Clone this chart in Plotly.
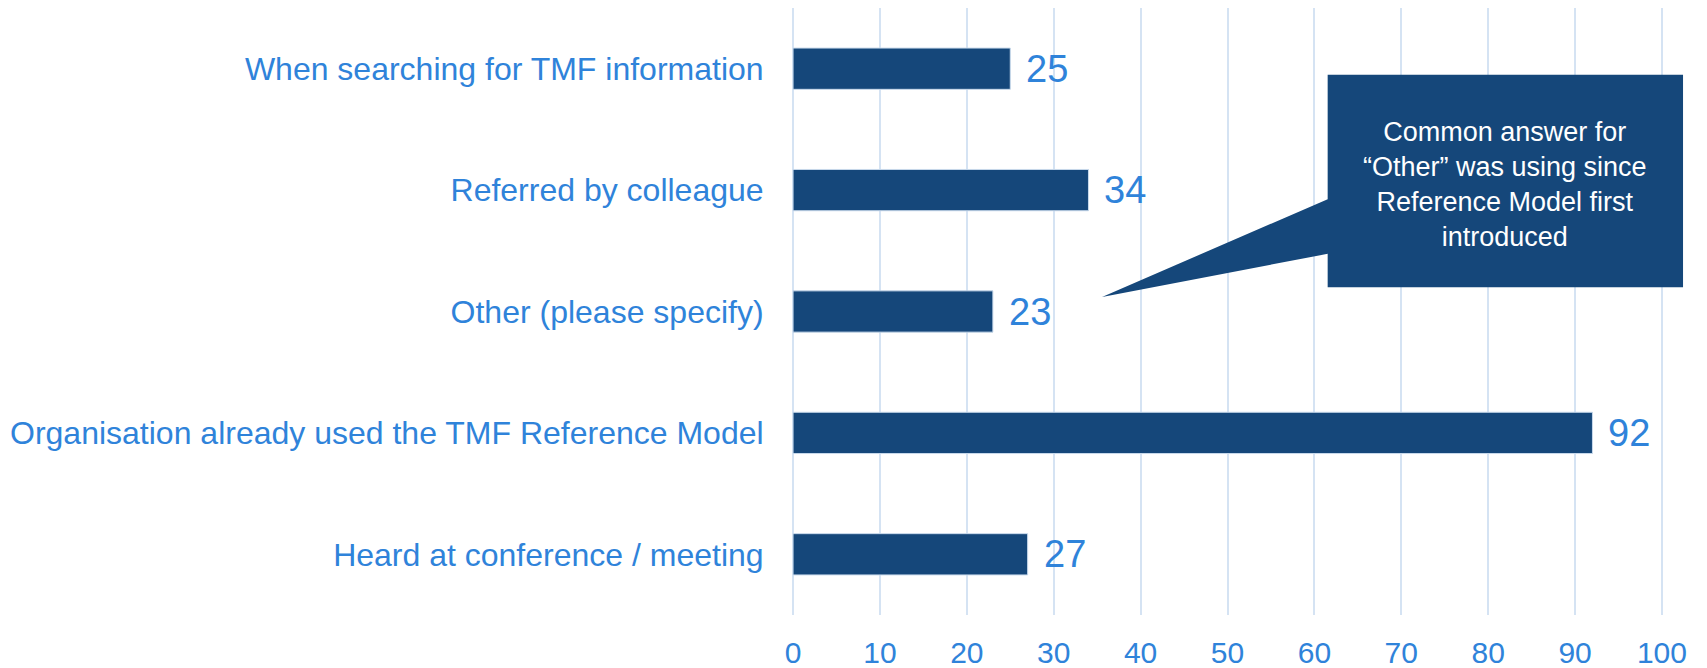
import plotly.graph_objects as go

categories = [
    "When searching for TMF information",
    "Referred by colleague",
    "Other (please specify)",
    "Organisation already used the TMF Reference Model",
    "Heard at conference / meeting",
]
values = [25, 34, 23, 92, 27]
x_ticks = [0, 10, 20, 30, 40, 50, 60, 70, 80, 90, 100]
callout_text = "Common answer for<br>“Other” was using since<br>Reference Model first<br>introduced"

BAR = "#15477A"
TXT = "#2F83DA"
GRID = "#D5E3F3"
FONT = "Liberation Sans, Arial, sans-serif"

fig = go.Figure()
fig.add_trace(go.Bar(
    y=categories, x=values, orientation="h",
    marker=dict(color=BAR, line=dict(color="#C9DAEC", width=1)),
    width=0.34, hoverinfo="x+y",
))

for c, v in zip(categories, values):
    fig.add_annotation(x=v, y=c, xref="x", yref="y", text=str(v),
                       showarrow=False, xanchor="left", xshift=14,
                       font=dict(family=FONT, size=38, color=TXT))

# callout box with pointer (paper coordinates)
bx0, bx1, by0, by1 = 0.615, 1.023, 0.540, 0.890
tipx, tipy = 0.356, 0.524
b_up, b_lo = 0.685, 0.595
path = (f"M {bx0},{by1} L {bx1},{by1} L {bx1},{by0} L {bx0},{by0} "
        f"L {bx0},{b_lo} L {tipx},{tipy} L {bx0},{b_up} Z")
fig.add_shape(type="path", path=path, xref="paper", yref="paper",
              fillcolor=BAR, line=dict(width=0), layer="above")
fig.add_annotation(x=(bx0 + bx1) / 2, y=0.709, xref="paper", yref="paper",
                   text=callout_text, showarrow=False, align="center",
                   xanchor="center", yanchor="middle",
                   font=dict(family=FONT, size=27, color="white"))

fig.update_layout(
    template="none",
    width=1699, height=660,
    margin=dict(l=784, r=44, t=0, b=53, autoexpand=False),
    paper_bgcolor="white", plot_bgcolor="white",
    showlegend=False,
    font=dict(family=FONT, color=TXT),
    xaxis=dict(range=[-0.12, 100.12], tickvals=x_ticks, showgrid=True,
               gridcolor=GRID, gridwidth=2, zeroline=False, automargin=False,
               ticks="outside", ticklen=11, tickcolor="rgba(0,0,0,0)",
               tickfont=dict(family=FONT, size=30, color=TXT),
               showline=False, fixedrange=True),
    yaxis=dict(autorange="reversed", showgrid=False, zeroline=False,
               automargin=False,
               ticks="outside", ticklen=21, tickcolor="rgba(0,0,0,0)",
               tickfont=dict(family=FONT, size=32, color=TXT),
               showline=False, fixedrange=True),
)

fig.write_html("out.html")
